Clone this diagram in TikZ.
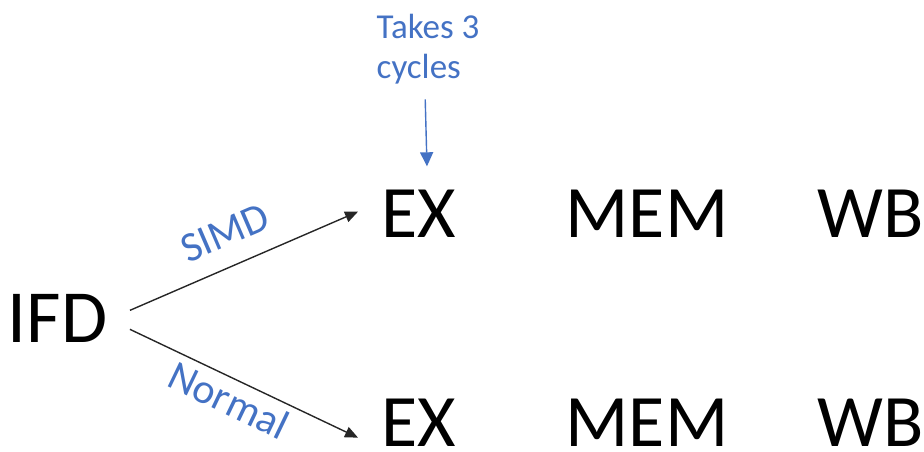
\documentclass[tikz,border=0pt]{standalone}
\usepackage{fontspec}
\setmainfont{Carlito}
\usetikzlibrary{arrows.meta,calc}
\definecolor{lblue}{HTML}{4472C4}
\begin{document}
\begin{tikzpicture}[x=1pt,y=-1pt,
  stage/.style={inner sep=0pt, anchor=base, font=\fontsize{74}{80}\selectfont},
  lbl/.style={inner sep=0pt, text=lblue, font=\fontsize{42}{48}\selectfont},
  conn/.style={line width=1.4pt, draw=black!85, -{Triangle[length=13pt,width=11pt]}},
  note/.style={line width=1.4pt, draw=lblue, -{Triangle[length=14pt,width=13pt]}}]
\useasboundingbox (0,0) rectangle (924,452);
% stages
\node[stage, font=\fontsize{75}{80}\selectfont] (ifd) at (57.5,342) {IFD};
\node[stage] (ex1) at (418.5,237) {EX};
\node[stage] (mem1) at (647,237) {MEM};
\node[stage] (wb1) at (871,237) {WB};
\node[stage] (ex2) at (418.5,446.5) {EX};
\node[stage] (mem2) at (647,446.5) {MEM};
\node[stage] (wb2) at (871,446.5) {WB};
% annotation
\node[inner sep=0pt, anchor=north west, align=left, text=lblue,
      font=\fontsize{35}{40}\selectfont] (takes) at (376.5,14) {Takes 3\\cycles};
% connectors
\draw[conn] ($(ifd.east)+(22.5,-7.6)$) -- ($(ex1.west)+(-23,-1.6)$);
\draw[conn] ($(ifd.east)+(22.5,11.4)$) -- ($(ex2.west)+(-23,14.9)$);
\draw[note] ($(takes.south)+(-2.8,15)$) -- ($(ex1.north)+(8.5,-23)$);
% labels
\node[lbl, rotate=23.3] (simd) at (225,233) {SIMD};
\node[lbl, rotate=-25.6] (normal) at (229,400) {Normal};
\end{tikzpicture}
\end{document}
